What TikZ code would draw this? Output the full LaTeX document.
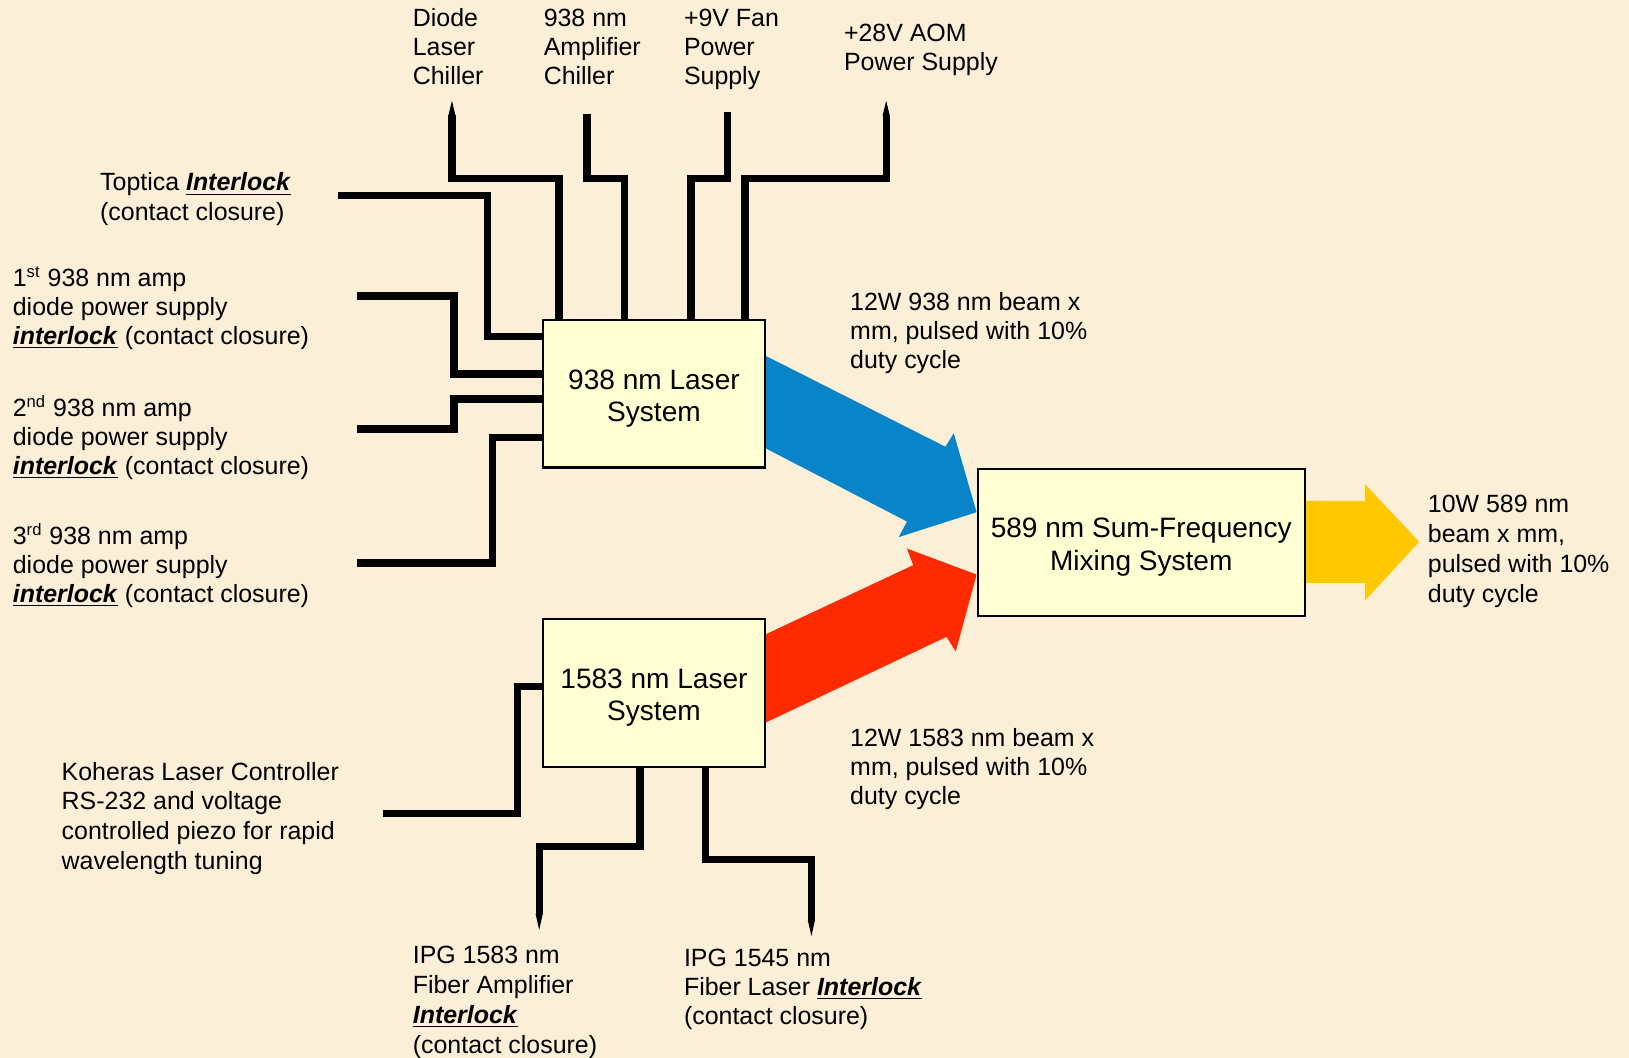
\documentclass[tikz,border=0pt]{standalone}
\usepackage{fontspec}
\setmainfont{Liberation Sans}
\usetikzlibrary{arrows.meta}
\definecolor{bg}{HTML}{FBEFD8}
\definecolor{boxfill}{HTML}{FFFFD4}
\definecolor{beamblue}{HTML}{0A84C8}
\definecolor{beamred}{HTML}{FF2A00}
\definecolor{beamyellow}{HTML}{FFC800}
\newcommand{\ilk}[1]{\underline{\textbf{\textit{#1}}}}
\begin{document}
\begin{tikzpicture}[x=0.5pt,y=-0.5pt,
  wire/.style={line width=3.5pt, line join=miter},
  lbl/.style={font=\fontsize{12}{14}\selectfont, align=left, anchor=north west, inner sep=0pt},
  sysbox/.style={draw, line width=1pt, fill=boxfill, align=center, inner sep=0pt,
    font=\fontsize{13.5}{15.5}\selectfont}]
\fill[bg] (0,0) rectangle (1568,1018);
\useasboundingbox (0,0) rectangle (1568,1018);

% beams
\fill[beamblue] (736,342) -- (910,430) -- (918,417) -- (940,493) -- (865,517) -- (873,502) -- (736,431) -- cycle;
\fill[beamred] (736,611) -- (879,544) -- (873,528) -- (940,553) -- (920,627) -- (911,613) -- (736,696) -- cycle;
\fill[beamyellow] (1256,482) -- (1314,482) -- (1314,466) -- (1366,521.5) -- (1314,578) -- (1314,561) -- (1256,561) -- cycle;

% boxes
\node[sysbox, minimum width=106.5pt, minimum height=71pt] (A) at (629.5,379) {\rule{0pt}{14pt}938 nm Laser\\System};
\node[sysbox, minimum width=106.5pt, minimum height=71pt] (B) at (629.5,667) {\rule{0pt}{14pt}1583 nm Laser\\System};
\node[sysbox, minimum width=157.5pt, minimum height=71pt] (C) at (1098.5,522) {\rule{0pt}{14pt}589 nm Sum-Frequency\\Mixing System};

% labels
\node[lbl] (ldiode) at (397,8) {Diode\\Laser\\Chiller};
\node[lbl] (lamp) at (523,8) {938 nm\\Amplifier\\Chiller};
\node[lbl] (lfan) at (658,8) {+9V Fan\\Power\\Supply};
\node[lbl] (laom) at (812,23) {+28V AOM\\Power Supply};
\node[lbl] (ltop) at (96,166) {Toptica \ilk{Interlock}\\(contact closure)};
\node[lbl] (la1) at (12,256) {1\textsuperscript{st} 938 nm amp\\diode power supply\\\ilk{interlock} (contact closure)};
\node[lbl] (la2) at (12,380) {2\textsuperscript{nd} 938 nm amp\\diode power supply\\\ilk{interlock} (contact closure)};
\node[lbl] (la3) at (12,503) {3\textsuperscript{rd} 938 nm amp\\diode power supply\\\ilk{interlock} (contact closure)};
\node[lbl, font=\fontsize{12}{14.4}\selectfont] (lkh) at (59,733) {Koheras Laser Controller\\RS-232 and voltage\\controlled piezo for rapid\\wavelength tuning};
\node[lbl, font=\fontsize{12}{14.4}\selectfont] (lipg1) at (397,910) {IPG 1583 nm\\Fiber Amplifier\\\ilk{Interlock}\\(contact closure)};
\node[lbl] (lipg2) at (658,913) {IPG 1545 nm\\Fiber Laser \ilk{Interlock}\\(contact closure)};
\node[lbl] (lb1) at (818,281) {12W 938 nm beam x\\mm, pulsed with 10\%\\duty cycle};
\node[lbl] (lb2) at (818,701) {12W 1583 nm beam x\\mm, pulsed with 10\%\\duty cycle};
\node[lbl, font=\fontsize{12}{14.5}\selectfont] (lb3) at (1374,476) {10W 589 nm\\beam x mm,\\pulsed with 10\%\\duty cycle};

% wire free ends (base of the pointed taper where there is one)
\coordinate (dtip) at (435,111);
\coordinate (ac) at (565,110);
\coordinate (fan) at (700,108);
\coordinate (aom) at (853,111);
\coordinate (top) at (325,188);
\coordinate (a1) at (344,285);
\coordinate (a2) at (344,413);
\coordinate (a3) at (344,542);
\coordinate (kh) at (369,783);
\coordinate (ipg1) at (519,880);
\coordinate (ipg2) at (781,886);

% wires
\draw[wire] ([xshift=8pt]A.north west) |- (435,172) -- (dtip);
\draw[wire] ([xshift=39.5pt]A.north west) |- (565,172) -- (ac);
\draw[wire] ([xshift=71.5pt]A.north west) |- (700,172) -- (fan);
\draw[wire] ([xshift=97.5pt]A.north west) |- (853,172) -- (aom);
\draw[wire] ([yshift=-8.5pt]A.north west) -| (469,188) -- (top);
\draw[wire] ([yshift=-26.5pt]A.north west) -| (437,285) -- (a1);
\draw[wire] ([yshift=-38.5pt]A.north west) -| (437,413) -- (a2);
\draw[wire] ([yshift=-57pt]A.north west) -| (474,542) -- (a3);
\draw[wire] ([yshift=-33pt]B.north west) -| (498,783) -- (kh);
\draw[wire] ([xshift=47pt]B.south west) |- (519,815) -- (ipg1);
\draw[wire] ([xshift=78.5pt]B.south west) |- (781,827) -- (ipg2);

% pointed wire ends
\fill ([shift={(-3.5,0.5)}]dtip) -- ([shift={(3.5,0.5)}]dtip) -- ([shift={(0,-14)}]dtip) -- cycle;
\fill ([shift={(-3.5,0.5)}]aom) -- ([shift={(3.5,0.5)}]aom) -- ([shift={(0,-14)}]aom) -- cycle;
\fill ([shift={(-3.5,-0.5)}]ipg1) -- ([shift={(3.5,-0.5)}]ipg1) -- ([shift={(0,15)}]ipg1) -- cycle;
\fill ([shift={(-3.5,-0.5)}]ipg2) -- ([shift={(3.5,-0.5)}]ipg2) -- ([shift={(0,15)}]ipg2) -- cycle;
\end{tikzpicture}
\end{document}
